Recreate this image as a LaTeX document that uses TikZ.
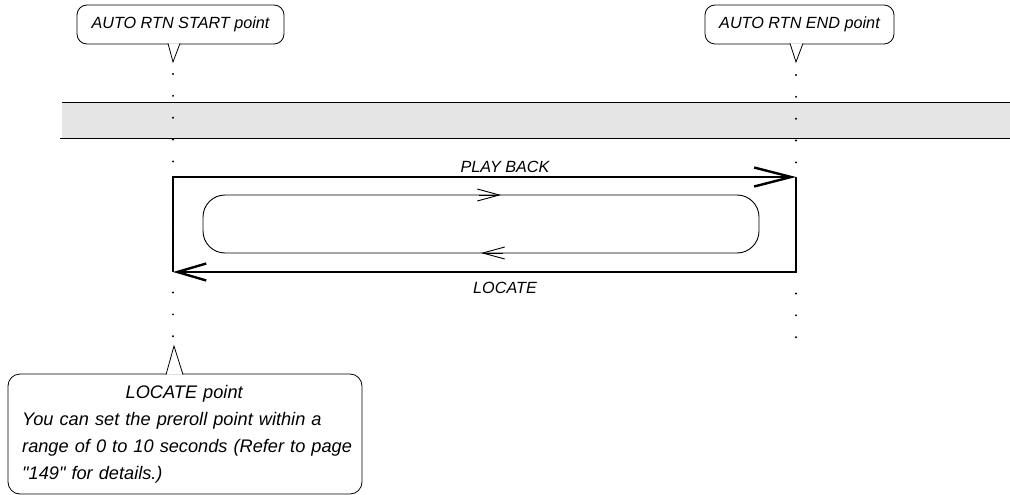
\documentclass[tikz,border=0pt]{standalone}
\usepackage{fontspec}
\setmainfont{Liberation Sans}[Ligatures=TeXOff]
\usetikzlibrary{arrows.meta}

\begin{document}
\begin{tikzpicture}[x=1pt,y=-1pt,font=\itshape\fontsize{16.2}{19}\selectfont,
  note/.style={draw,rounded corners=10pt,line width=.8pt,inner sep=0pt},
  tail/.style={draw,fill=white,line width=.8pt,line join=miter},
  dotpt/.style={circle,fill,inner sep=0pt,minimum size=2.2pt},
  track/.style={line width=2.4pt,line join=miter},
  lane/.style={line width=.9pt}]
\useasboundingbox (0,0) rectangle (1010,495);
\fill[black!10] (62,103) rectangle (1010,138);
\draw[line width=1pt] (62,103) -- (1010,103);
\draw[line width=1pt] (60,138) -- (1010,138);
\foreach \i in {0,...,12}{
  \node[dotpt] (ls\i) at (173,74+21.85*\i) {};
  \node[dotpt] (rs\i) at (796,75+21.85*\i) {};
}
\node[note,minimum width=207pt,minimum height=39pt] (startnote) at (180.5,24.5) {AUTO RTN START point};
\filldraw[tail] (168,43.4) -- (173,62) -- (180,43.4);
\node[note,minimum width=189pt,minimum height=39pt] (endnote) at (799.5,24.5) {AUTO RTN END point};
\filldraw[tail] (790,43.4) -- (796,62) -- (803,43.4);
\coordinate (lt) at (173,177);
\coordinate (rt) at (796,177);
\coordinate (rb) at (796,272);
\coordinate (lb) at (173,272);
\draw[track,-{Straight Barb[length=37pt,width=19pt]}] (lb) -- (lt) -- (rt);
\draw[track,-{Straight Barb[length=29pt,width=17pt]}] (rt) -- (rb) -- (lb);
\node (playlbl) at (505,167) {PLAY BACK};
\node (loclbl) at (505,288) {LOCATE};
\draw[lane,rounded corners=22pt] (203,195) rectangle (759,253);
\coordinate (pa) at (479,195);
\coordinate (pb) at (501,195);
\coordinate (la) at (503,253);
\coordinate (lc) at (481,253);
\draw[lane,-{Straight Barb[length=22pt,width=12pt]}] (pa) -- (pb);
\draw[lane,-{Straight Barb[length=22pt,width=12pt]}] (la) -- (lc);
\node[note,rounded corners=12pt,minimum width=354pt,minimum height=120pt] (locbox) at (185,434) {};
\filldraw[tail] (166,374.6) -- (174,346) -- (183,374.6);
\node[align=left,text width=345pt,inner sep=0pt,anchor=west,font=\itshape\fontsize{18.2}{27}\selectfont] (loctext) at (22,434)
  {\makebox[324pt]{LOCATE point}\\You can set the preroll point within a\\range of 0 to 10 seconds (Refer to page\\"149" for details.)};
\end{tikzpicture}
\end{document}
